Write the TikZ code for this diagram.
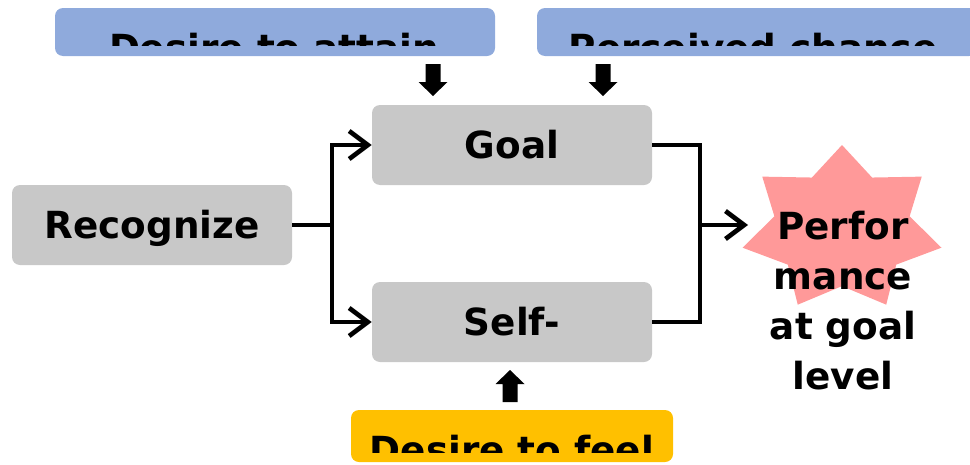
\documentclass[tikz,border=0pt]{standalone}
\usepackage{fontspec}
\setmainfont{DejaVu Sans}
\usetikzlibrary{arrows.meta}
\definecolor{boxgrey}{RGB}{200,200,200}
\definecolor{boxblue}{RGB}{143,170,220}
\definecolor{boxgold}{RGB}{255,192,0}
\definecolor{starpink}{RGB}{255,153,153}
\tikzset{
  stepbox/.style={fill=boxgrey, rounded corners=6pt, inner sep=0pt,
    minimum width=210pt, minimum height=60pt, text height=20.4pt, text depth=0pt},
  inputbox/.style={rounded corners=6pt, inner sep=0pt, minimum height=36pt},
  boxtext/.style={anchor=base, inner sep=0pt},
  link/.style={line width=3.5pt, >={Straight Barb[length=14pt,width=21pt]}},
  fatarrow/.pic={
    \fill (-7.5,-32) -- (7.5,-32) -- (7.5,-14) -- (14.5,-14) -- (0,0)
      -- (-14.5,-14) -- (-7.5,-14) -- cycle;
  }
}
\begin{document}
\begin{tikzpicture}[x=0.75pt,y=-0.75pt,font=\fontsize{28}{37.5}\selectfont\bfseries]
  \clip (0,0) rectangle (970,464);
  % inputs
  \node[inputbox, fill=boxblue, minimum width=330pt] (attain) at (275,32) {};
  \node[inputbox, fill=boxblue, minimum width=330pt] (chance) at (757,32) {};
  \node[inputbox, fill=boxgold, minimum width=241.5pt, minimum height=39pt] (feel) at (512,436) {};
  \begin{scope}
    \clip (55,8) rectangle (495,45);
    \node[boxtext] (attaintext) at (274,61) {Desire to attain};
  \end{scope}
  \begin{scope}
    \clip (537,8) rectangle (977,45);
    \node[boxtext] (chancetext) at (753,61) {Perceived chance};
  \end{scope}
  \begin{scope}
    \clip (351,410) rectangle (673,452);
    \node[boxtext] (feeltext) at (512,463) {Desire to feel};
  \end{scope}
  \pic at (433,96) {fatarrow};
  \pic at (603,96) {fatarrow};
  \pic[rotate=180] at (510,370) {fatarrow};
  % steps
  \node[stepbox] (recognize) at (152,225) {Recognize};
  \node[stepbox] (goal) at (512,145) {Goal};
  \node[stepbox] (self) at (512,322) {Self-};
  % star
  \fill[starpink] plot[samples at={0,...,13}, variable=\k]
    ({842+102*(1-0.32*mod(\k,2))*cos(90+\k*360/14)},
     {229-84*(1-0.32*mod(\k,2))*sin(90+\k*360/14)}) -- cycle;
  \node[align=center, anchor=base, inner sep=0pt] (perf) at (843,389)
    {Perfor\\mance\\at goal\\level};
  \coordinate (split) at (332,225);
  \coordinate (merge) at (700,225);
  \coordinate (startip) at (748,225);
  \begin{scope}[link]
    \draw (recognize.east) -- (split);
    \draw[->] (split) |- (goal.west);
    \draw[->] (split) |- (self.west);
    \draw (goal.east) -| (merge) |- (self.east);
    \draw[->] (merge) -- (startip);
  \end{scope}
\end{tikzpicture}
\end{document}
